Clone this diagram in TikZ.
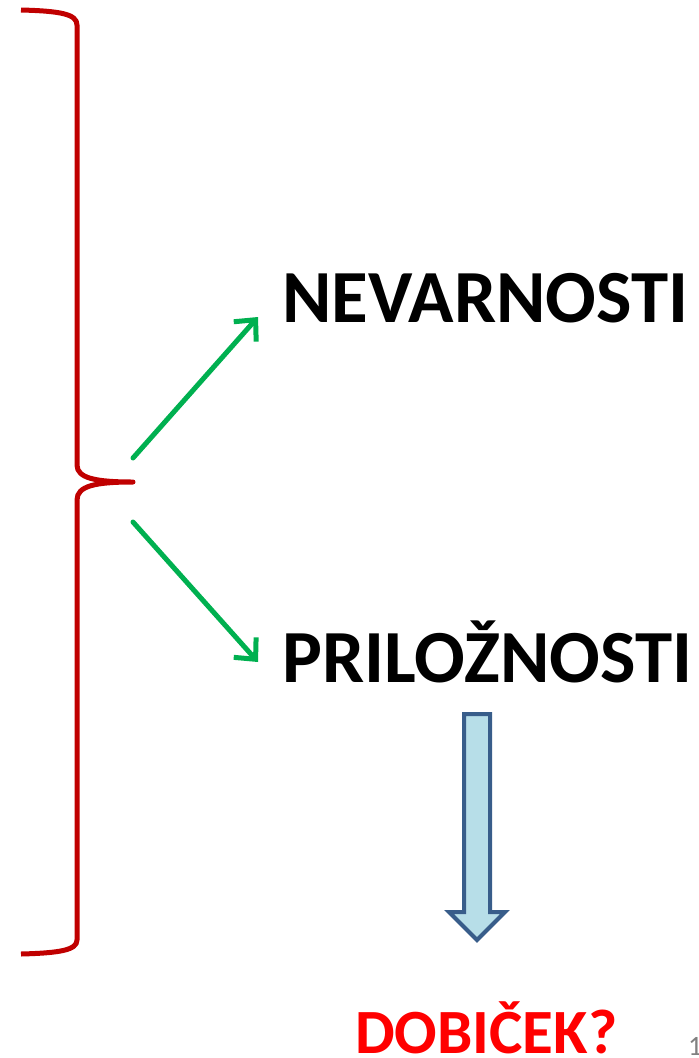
\documentclass[tikz,border=0pt]{standalone}
\usepackage{fontspec}
\setmainfont{Carlito}
\usetikzlibrary{arrows.meta}
\definecolor{bracered}{HTML}{C00000}
\definecolor{arrowgreen}{HTML}{00B050}
\definecolor{shaftfill}{HTML}{B7DEE8}
\definecolor{shaftline}{HTML}{385D8A}
\tikzset{
  word/.style={anchor=base west,inner sep=0pt,font=\fontsize{75}{75}\selectfont\bfseries},
  branch/.style={draw=arrowgreen,line width=5pt,line cap=round,-{Straight Barb[length=16pt,width=30pt,line width=5pt]}},
}
\begin{document}
\begin{tikzpicture}[x=1pt,y=-1pt,line join=round]
  \useasboundingbox (0,0) rectangle (699,1058);
  % brace
  \draw[bracered,line width=5pt] (21,10) .. controls (60,11) and (77,14) .. (77,25)
    -- (77,465) .. controls (77,478) and (95,482) .. (133,482)
    .. controls (95,482) and (77,486) .. (77,500)
    -- (77,940) .. controls (77,950) and (60,953) .. (21,954);
  \node[word] (nev) at (282,322) {NEVARNOSTI};
  \node[word] (pril) at (282,682) {PRILOŽNOSTI};
  \node[anchor=base west,inner sep=0pt,text=red,font=\fontsize{63}{63}\selectfont\bfseries] (dob) at (355,1053) {DOBIČEK?};
  \node[anchor=base west,inner sep=0pt,text=gray,font=\fontsize{28}{28}\selectfont] (num) at (688,1055) {1};
  \coordinate (up) at (133,458);
  \coordinate (down) at (133,522);
  \draw[branch] (up) -- (258,317);
  \draw[branch] (down) -- (258,662);
  % block arrow
  \draw[draw=shaftline,fill=shaftfill,line width=4pt,line join=miter]
    (464,714) -- (490,714) -- (490,912) -- (505,912) -- (477,940) -- (449,912) -- (464,912) -- cycle;
\end{tikzpicture}
\end{document}
